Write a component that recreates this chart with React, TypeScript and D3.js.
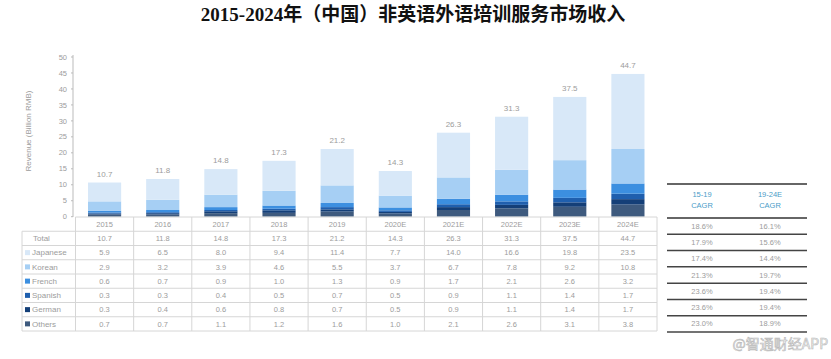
import React from 'react'
import * as d3 from 'd3'

const years = ['2015', '2016', '2017', '2018', '2019', '2020E', '2021E', '2022E', '2023E', '2024E']
const totals = [10.7, 11.8, 14.8, 17.3, 21.2, 14.3, 26.3, 31.3, 37.5, 44.7]
const japanese = [5.9, 6.5, 8.0, 9.4, 11.4, 7.7, 14.0, 16.6, 19.8, 23.5]
const korean = [2.9, 3.2, 3.9, 4.6, 5.5, 3.7, 6.7, 7.8, 9.2, 10.8]
const french = [0.6, 0.7, 0.9, 1.0, 1.3, 0.9, 1.7, 2.1, 2.6, 3.2]
const spanish = [0.3, 0.3, 0.4, 0.5, 0.7, 0.5, 0.9, 1.1, 1.4, 1.7]
const german = [0.3, 0.4, 0.6, 0.8, 0.7, 0.5, 0.9, 1.1, 1.4, 1.7]
const others = [0.7, 0.7, 1.1, 1.2, 1.6, 1.0, 2.1, 2.6, 3.1, 3.8]
const cagr1519 = ['18.6%', '17.9%', '17.4%', '21.3%', '23.6%', '23.6%', '23.0%']
const cagr1924 = ['16.1%', '15.6%', '14.4%', '19.7%', '19.4%', '19.4%', '18.9%']
const yTicks = [0, 5, 10, 15, 20, 25, 30, 35, 40, 45, 50]

// stacked bottom -> top
const series = [
  { name: 'Others', values: others, color: '#3e5a7e' },
  { name: 'German', values: german, color: '#143f78' },
  { name: 'Spanish', values: spanish, color: '#1f5fae' },
  { name: 'French', values: french, color: '#3c8fe0' },
  { name: 'Korean', values: korean, color: '#a6cff4' },
  { name: 'Japanese', values: japanese, color: '#d8e8f8' },
]
const tableRows = [
  { name: 'Total', values: totals, color: null as string | null },
  ...series.slice().reverse().map(s => ({ name: s.name, values: s.values, color: s.color as string | null })),
]

const font = '"Liberation Sans", Arial, sans-serif'
const textGray = '#9c9c9c'
const gridGray = '#d6d6d6'

export default function App() {
  const width = 831
  const height = 359
  const x = d3.scaleBand().domain(years).range([75.5, 657]).paddingInner(0.43).paddingOuter(0.215)
  const y = d3.scaleLinear().domain([0, 50]).range([216.7, 57])

  const stacked = years.map((yr, i) => {
    let acc = 0
    return series.map(s => {
      const y0 = acc
      acc += s.values[i]
      return { year: yr, y0, y1: acc, color: s.color, key: s.name }
    })
  })

  const tableLeft = 22
  const labelRight = 75.5
  const tableRight = 657
  const rowScale = d3.scaleBand().domain(['year', ...tableRows.map(r => r.name)]).range([217, 331])
  const cagrRows = d3.scaleBand().domain(tableRows.map(r => r.name)).range([218, 332])
  const cagrLeft = 667
  const cagrRight = 807
  const c1 = 702
  const c2 = 770

  return (
    <svg width={width} height={height} style={{ position: 'absolute', left: 0, top: 0, background: '#fff' }}>
      <text x={413} y={21} textAnchor="middle" fontFamily='"Liberation Serif", "Noto Sans CJK SC", serif'
        fontWeight="bold" fontSize={19} fill="#111">2015-2024年（中国）非英语外语培训服务市场收入</text>

      {/* y axis */}
      <line x1={73} x2={73} y1={55} y2={217} stroke="#bbb" strokeWidth={1} />
      {yTicks.map(t => (
        <g key={t}>
          <line x1={71} x2={73} y1={y(t)} y2={y(t)} stroke="#bbb" />
          <text x={67} y={y(t)} dy="0.35em" textAnchor="end" fontFamily={font} fontSize={7.5} fill={textGray}>{t}</text>
        </g>
      ))}
      <text transform="translate(31,131) rotate(-90)" textAnchor="middle" fontFamily={font} fontSize={8} fill={textGray}>
        Revenue (Billion RMB)
      </text>

      {/* bars */}
      {stacked.map((segs, i) => (
        <g key={years[i]}>
          {segs.map(s => (
            <rect key={s.key} x={x(s.year)} width={x.bandwidth()} y={y(s.y1)} height={y(s.y0) - y(s.y1)} fill={s.color} />
          ))}
          <text x={(x(years[i]) as number) + x.bandwidth() / 2} y={y(totals[i]) - 6} textAnchor="middle"
            fontFamily={font} fontSize={8} fill={textGray}>{totals[i].toFixed(1)}</text>
        </g>
      ))}

      {/* data table */}
      <g fill="none" stroke={gridGray} strokeWidth={1}>
        <line x1={labelRight} x2={tableRight} y1={217} y2={217} />
        {tableRows.map(r => (
          <line key={r.name} x1={tableLeft} x2={tableRight} y1={rowScale(r.name)} y2={rowScale(r.name)} />
        ))}
        <line x1={tableLeft} x2={tableRight} y1={331} y2={331} />
        <line x1={tableLeft} x2={tableLeft} y1={rowScale('Total')} y2={331} />
        <line x1={labelRight} x2={labelRight} y1={217} y2={331} />
        {years.map(yr => {
          const xr = (x(yr) as number) + x.bandwidth() / 2 + x.step() / 2
          return <line key={yr} x1={xr} x2={xr} y1={217} y2={331} />
        })}
      </g>
      {years.map(yr => (
        <text key={yr} x={(x(yr) as number) + x.bandwidth() / 2} y={(rowScale('year') as number) + rowScale.bandwidth() / 2}
          dy="0.35em" textAnchor="middle" fontFamily={font} fontSize={7.5} fill={textGray}>{yr}</text>
      ))}
      {tableRows.map(r => {
        const cy = (rowScale(r.name) as number) + rowScale.bandwidth() / 2
        return (
          <g key={r.name}>
            {r.color && <rect x={25} y={cy - 2.5} width={5} height={5} fill={r.color} />}
            <text x={r.color ? 32 : 33} y={cy} dy="0.35em" fontFamily={font} fontSize={8} fill={textGray}>{r.name}</text>
            {r.values.map((v, i) => (
              <text key={i} x={(x(years[i]) as number) + x.bandwidth() / 2} y={cy} dy="0.35em" textAnchor="middle"
                fontFamily={font} fontSize={7.5} fill={textGray}>{v.toFixed(1)}</text>
            ))}
          </g>
        )
      })}

      {/* CAGR table */}
      <line x1={cagrLeft} x2={cagrRight} y1={184} y2={184} stroke="#333" strokeWidth={1.5} />
      <text x={c1} y={197} textAnchor="middle" fontFamily={font} fontSize={7.5} fill="#4a9cc8">15-19</text>
      <text x={c1} y={208} textAnchor="middle" fontFamily={font} fontSize={7.5} fill="#4a9cc8">CAGR</text>
      <text x={c2} y={197} textAnchor="middle" fontFamily={font} fontSize={7.5} fill="#4a9cc8">19-24E</text>
      <text x={c2} y={208} textAnchor="middle" fontFamily={font} fontSize={7.5} fill="#4a9cc8">CAGR</text>
      <line x1={cagrLeft} x2={cagrRight} y1={218} y2={218} stroke="#333" strokeWidth={1.5} />
      {tableRows.map((r, i) => {
        const top = cagrRows(r.name) as number
        const cy = top + cagrRows.bandwidth() / 2
        return (
          <g key={r.name}>
            <text x={c1} y={cy} dy="0.35em" textAnchor="middle" fontFamily={font} fontSize={7.5} fill={textGray}>{cagr1519[i]}</text>
            <text x={c2} y={cy} dy="0.35em" textAnchor="middle" fontFamily={font} fontSize={7.5} fill={textGray}>{cagr1924[i]}</text>
            <line x1={cagrLeft} x2={cagrRight} y1={top + cagrRows.bandwidth()} y2={top + cagrRows.bandwidth()} stroke="#444" strokeWidth={1.5} />
          </g>
        )
      })}

      {/* watermark */}
      <text x={828} y={349} textAnchor="end" fontFamily='"Noto Sans CJK SC", sans-serif' fontSize={14}
        fill="#f4f4f4" stroke="#b8b8b8" strokeWidth={0.6}>@智通财经APP</text>
    </svg>
  )
}
